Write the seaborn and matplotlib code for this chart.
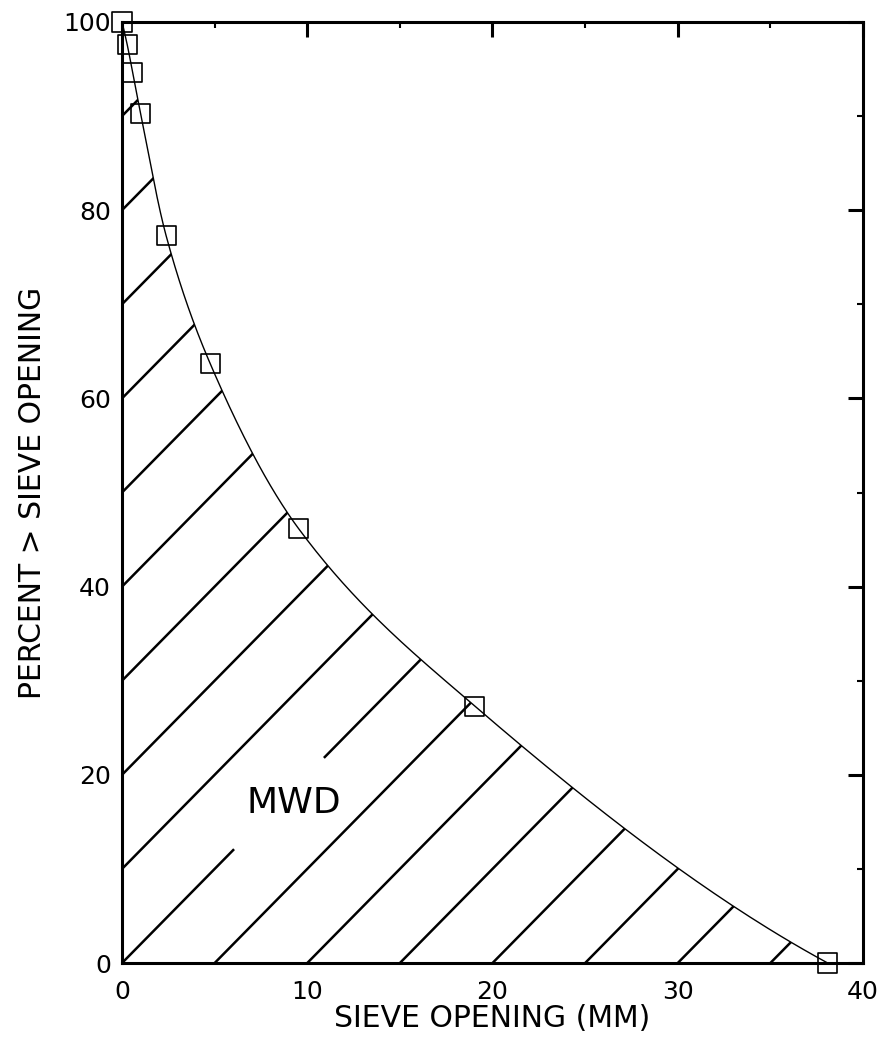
import numpy as np
import pandas as pd
import matplotlib
matplotlib.use("Agg")
import matplotlib.pyplot as plt
from matplotlib.patches import Polygon
from matplotlib.ticker import MultipleLocator
import seaborn as sns

sns.set_style("white")
plt.rcParams['font.family'] = ['DejaVu Sans']
plt.rcParams['text.color'] = 'black'
plt.rcParams['axes.labelcolor'] = 'black'

# sieve data
sieve_mm = [0.0, 0.28, 0.58, 1.0, 2.38, 4.76, 9.52, 19.05, 38.1]
pct_greater = [100.0, 97.6, 94.6, 90.3, 77.3, 63.7, 46.2, 27.3, 0.0]

x_ticks = [0, 10, 20, 30, 40]
y_ticks = [0, 20, 40, 60, 80, 100]
hatch_offsets = list(range(90, -80, -10))   # hatch lines y = 2x + c


def pchip_curve(x, y, n=60):
    # monotone cubic through the measured points (smooth curve like the plotter)
    x = np.asarray(x, float)
    y = np.asarray(y, float)
    h = np.diff(x)
    d = np.diff(y) / h
    m = np.zeros_like(y)
    for k in range(1, len(x) - 1):
        if d[k - 1] * d[k] <= 0:
            m[k] = 0.0
        else:
            w1 = 2 * h[k] + h[k - 1]
            w2 = h[k] + 2 * h[k - 1]
            m[k] = (w1 + w2) / (w1 / d[k - 1] + w2 / d[k])

    def end(h0, h1, d0, d1):
        v = ((2 * h0 + h1) * d0 - h0 * d1) / (h0 + h1)
        if np.sign(v) != np.sign(d0):
            return 0.0
        if np.sign(d0) != np.sign(d1) and abs(v) > 3 * abs(d0):
            return 3 * d0
        return v

    m[0] = end(h[0], h[1], d[0], d[1])
    m[-1] = end(h[-1], h[-2], d[-1], d[-2])
    xs, ys = [], []
    for k in range(len(x) - 1):
        t = np.linspace(0, 1, n, endpoint=(k == len(x) - 2))
        h00 = 2 * t**3 - 3 * t**2 + 1
        h10 = t**3 - 2 * t**2 + t
        h01 = -2 * t**3 + 3 * t**2
        h11 = t**3 - t**2
        xs.append(x[k] + t * h[k])
        ys.append(h00 * y[k] + h10 * h[k] * m[k] + h01 * y[k + 1] + h11 * h[k] * m[k + 1])
    return np.concatenate(xs), np.concatenate(ys)


cx, cy = pchip_curve(sieve_mm, pct_greater)
df_pts = pd.DataFrame({'sieve': sieve_mm, 'pct': pct_greater})
df_curve = pd.DataFrame({'sieve': cx, 'pct': cy})

fig = plt.figure(figsize=(8.86, 10.46), dpi=100)
ax = fig.add_axes([0.1377, 0.0793, 0.974 - 0.1377, 0.979 - 0.0793])

# area under the curve, used to clip the hatching
region = Polygon(np.column_stack([np.r_[cx, 0.0], np.r_[cy, 0.0]]),
                 closed=True, transform=ax.transData)

label_gap = (6.1, 10.9)   # hatch line is broken where the MWD label sits
hx = np.linspace(0, 40, 801)
for c in hatch_offsets:
    hy = 2 * hx + c
    if c == 0:
        hy = np.where((hx > label_gap[0]) & (hx < label_gap[1]), np.nan, hy)
    ln, = ax.plot(hx, hy, color='black', lw=1.8, solid_capstyle='butt')
    ln.set_clip_path(region)

sns.lineplot(data=df_curve, x='sieve', y='pct', sort=False, estimator=None,
             color='black', lw=1.0, ax=ax)
sns.scatterplot(data=df_pts, x='sieve', y='pct', marker='s', s=190,
                facecolors='none', edgecolor='black', linewidth=1.2, ax=ax, zorder=5)
ax.collections[-1].set_clip_on(False)

ax.text(9.3, 17.0, 'MWD', fontsize=26, ha='center', va='center', color='black')

ax.set_xlim(0, 40)
ax.set_ylim(0, 100)
ax.set_xticks(x_ticks)
ax.set_yticks(y_ticks)
ax.xaxis.set_minor_locator(MultipleLocator(5))
ax.yaxis.set_minor_locator(MultipleLocator(10))
ax.tick_params(which='both', direction='in', top=True, right=True,
               colors='black', labelcolor='black')
ax.tick_params(which='major', length=11, width=2.2, labelsize=18)
ax.tick_params(axis='x', which='major', pad=12)
ax.tick_params(axis='y', which='major', pad=8)
ax.tick_params(which='minor', length=4, width=1.5)
for sp in ax.spines.values():
    sp.set_linewidth(2.2)
    sp.set_color('black')

ax.set_xlabel('SIEVE OPENING (MM)', fontsize=21.5, labelpad=0, color='black')
ax.set_ylabel('PERCENT > SIEVE OPENING', fontsize=21.5, labelpad=12, color='black')

plt.savefig('out.png', dpi=100)
